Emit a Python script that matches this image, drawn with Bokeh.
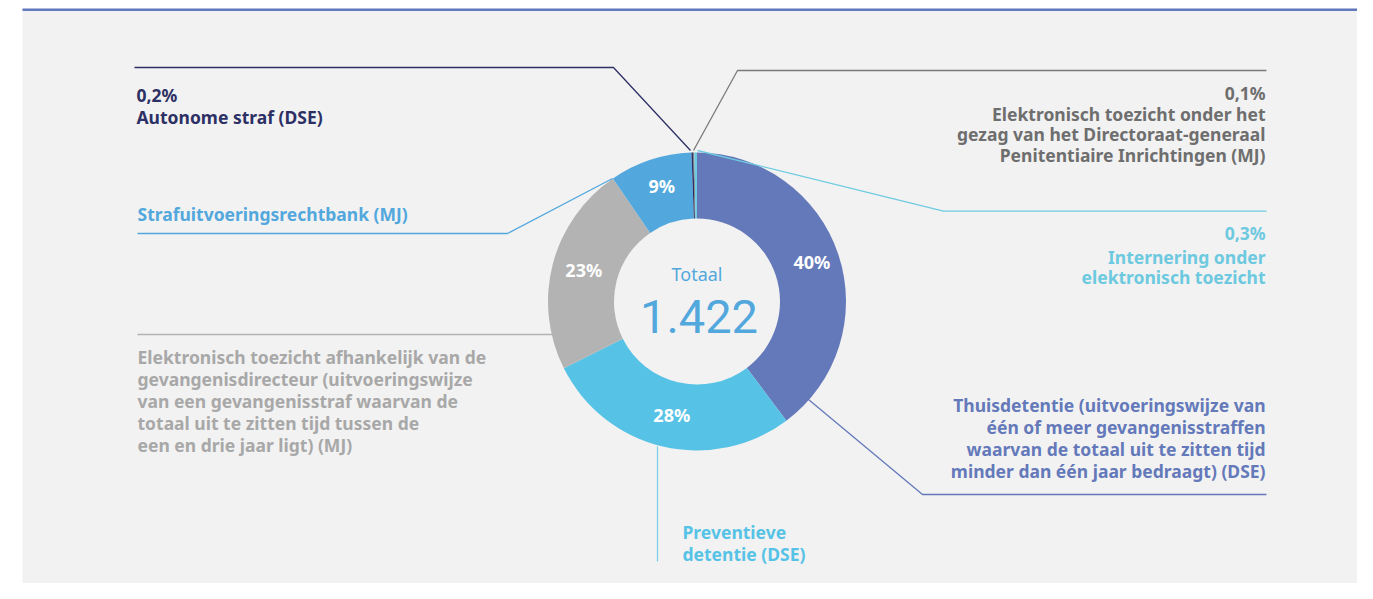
import math
from bokeh.plotting import figure
from bokeh.models import Range1d, ColumnDataSource
from bokeh.core.properties import value
from bokeh.embed import file_html
from bokeh.resources import INLINE

# ---------------- data ----------------
categories = [
    "Thuisdetentie",
    "Preventieve detentie",
    "Elektronisch toezicht afhankelijk van de gevangenisdirecteur",
    "Strafuitvoeringsrechtbank",
    "Autonome straf",
    "Elektronisch toezicht onder het gezag van het DG EPI",
    "Internering onder elektronisch toezicht",
]
shares = [40, 28, 23, 9, 0.2, 0.1, 0.3]
share_labels = ["40%", "28%", "23%", "9%", "0,2%", "0,1%", "0,3%"]
slice_colors = ["#6479BA", "#56C3E6", "#B3B3B3", "#52A8DD", "#2D3064", "#707070", "#6FCBE0"]
total_label = "Totaal"
total_value = "1.422"

label_thuis = ["Thuisdetentie (uitvoeringswijze van",
               "één of meer gevangenisstraffen",
               "waarvan de totaal uit te zitten tijd",
               "minder dan één jaar bedraagt) (DSE)"]
label_prev = ["Preventieve", "detentie (DSE)"]
label_et = ["Elektronisch toezicht afhankelijk van de",
            "gevangenisdirecteur (uitvoeringswijze",
            "van een gevangenisstraf waarvan de",
            "totaal uit te zitten tijd tussen de",
            "een en drie jaar ligt) (MJ)"]
label_surb = ["Strafuitvoeringsrechtbank (MJ)"]
label_auto = ["Autonome straf (DSE)"]
label_dgepi = ["Elektronisch toezicht onder het",
               "gezag van het Directoraat-generaal",
               "Penitentiaire Inrichtingen (MJ)"]
label_intern = ["Internering onder", "elektronisch toezicht"]

# ---------------- figure ----------------
W, H = 1357, 583
p = figure(width=W, height=H, x_range=Range1d(0, W), y_range=Range1d(0, H),
           output_backend="svg", toolbar_location=None, min_border=0,
           x_axis_location=None, y_axis_location=None)
p.grid.visible = False
p.outline_line_color = None
p.background_fill_color = "white"
p.border_fill_color = "white"

def Y(yp):
    return H - yp

FONT = value("Noto Sans")
NUM_FONT = value("Roboto")

# panel
p.quad(left=22, right=1361, top=Y(8), bottom=Y(600), fill_color="#F2F2F2", line_color=None)
p.quad(left=22, right=1361, top=Y(8), bottom=Y(10.5), fill_color="#6278BD", line_color=None)

# donut
cx, cy = 696.5, Y(301)
r_in, r_out = 83, 149
tot = sum(shares)
starts, ends, mids = [], [], []
acc = 0.0
for s in shares:
    a0 = acc / tot * 2 * math.pi
    acc += s
    a1 = acc / tot * 2 * math.pi
    starts.append(math.pi / 2 - a0)
    ends.append(math.pi / 2 - a1)
    mids.append((a0 + a1) / 2)
src = ColumnDataSource(dict(start=starts, end=ends, color=slice_colors))
p.annular_wedge(x=cx, y=cy, inner_radius=r_in, outer_radius=r_out,
                start_angle="start", end_angle="end", direction="clock",
                fill_color="color", line_color=None, source=src)

# percentage labels inside the ring (the four large slices)
r_lab = 119
lx = [cx + r_lab * math.sin(m) + 2 for m in mids[:4]]
ly = [cy + r_lab * math.cos(m) + 2 for m in mids[:4]]
p.text(x=lx, y=ly, text=share_labels[:4], text_color="white", text_font=FONT,
       text_font_style="bold", text_font_size="18px", text_align="center",
       text_baseline="middle")

# center text (positions are visual centres of the capitals)
p.text(x=[cx], y=[Y(273.5)], text=[total_label], text_color="#52A8DD", text_font=FONT,
       text_font_size="18px", text_align="center", text_baseline="middle")
p.text(x=[cx + 2], y=[Y(316)], text=[total_value], text_color="#52A8DD",
       text_font=NUM_FONT, text_font_size="47px", text_align="center",
       text_baseline="middle")

# leader lines
def leader(xs, ys, color):
    p.line(x=xs, y=[Y(v) for v in ys], line_color=color, line_width=1.3)

leader([690, 613, 134], [150, 67, 67], "#2D3064")
leader([693, 737, 1266], [150, 70, 70], "#7A7A7A")
leader([697, 943, 1266], [150, 210.7, 210.7], "#6FCBE0")
leader([612, 507, 137], [178, 233, 233], "#52A8DD")
leader([553, 137], [334, 334], "#B3B3B3")
leader([808, 922, 1266], [399, 494, 494], "#6479BA")
leader([657, 657], [446, 561], "#7FCFE8")

SIZE = 17.5
def block(lines, x, baselines, color, align):
    # baselines are converted to the visual middle of the capitals
    ys = [Y(b - 0.36 * SIZE) for b in baselines]
    p.text(x=[x] * len(lines), y=ys, text=lines,
           text_color=color, text_font=FONT, text_font_style="bold",
           text_font_size=f"{SIZE}px", text_align=align, text_baseline="middle")

block([share_labels[4]] + label_auto, 136, [100.5, 123], "#2D3064", "left")
block([share_labels[5]] + label_dgepi, 1265, [98.3, 119.3, 139.8, 160.3], "#6E6E6E", "right")
block([share_labels[6]] + label_intern, 1265, [238.3, 262.5, 283], "#6DC9E0", "right")
block(label_surb, 137, [220], "#52A8DD", "left")
block(label_et, 137, [362.5, 384.5, 406.5, 429, 451], "#A8A8A8", "left")
block(label_thuis, 1265, [411, 433, 455, 477], "#6479BA", "right")
block(label_prev, 682, [537.5, 559.3], "#56C3E6", "left")

open("out.html", "w").write(file_html(p, INLINE))
